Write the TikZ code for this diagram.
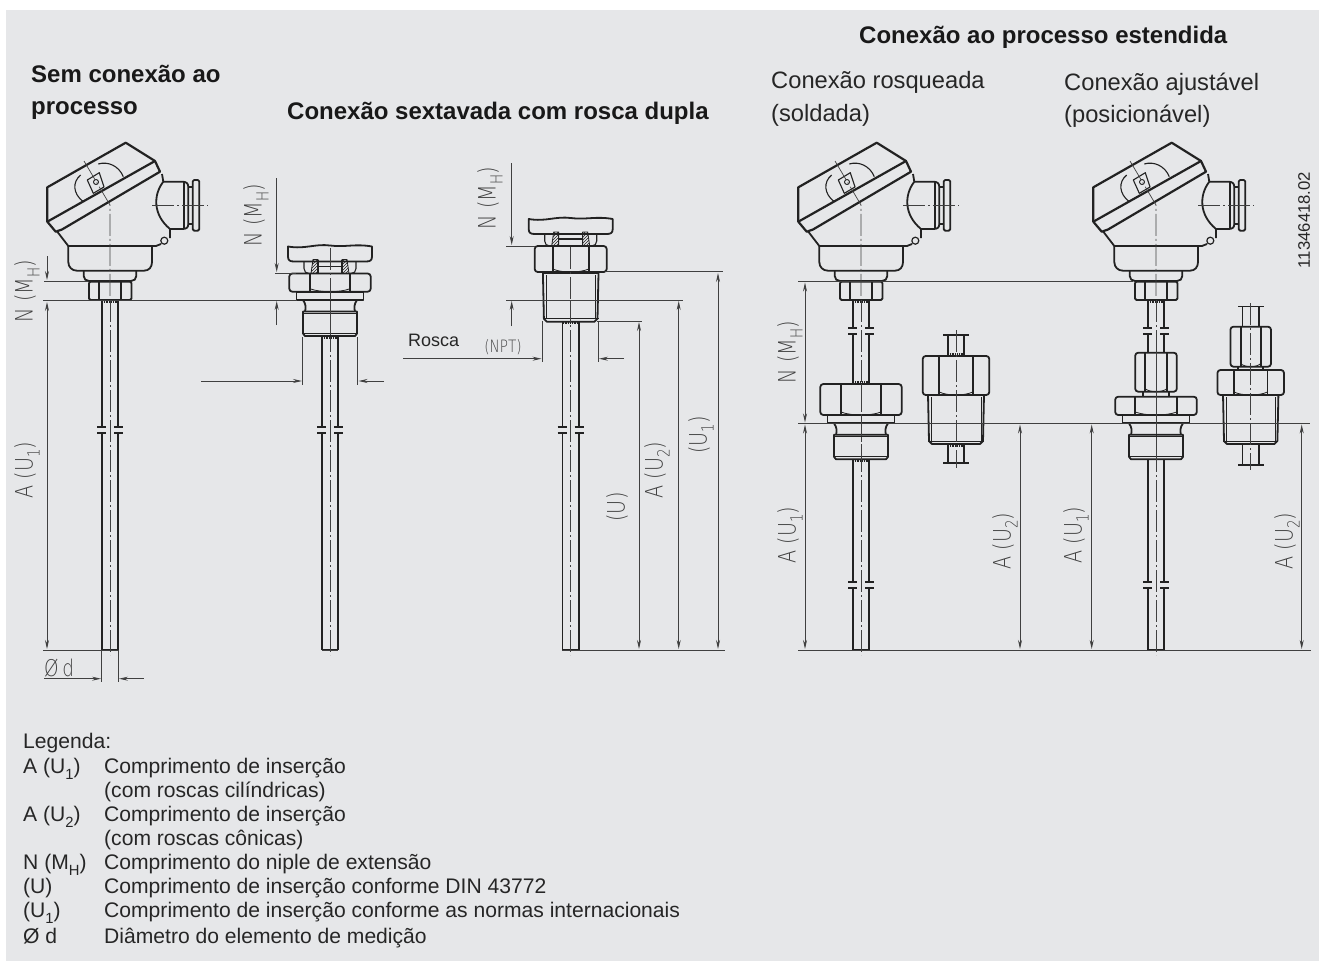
\documentclass[tikz,border=0pt]{standalone}
\usepackage{fontspec}
\setmainfont{Liberation Sans}
\newfontfamily\dimfont[FakeStretch=.8]{DejaVu Sans ExtraLight}
\usetikzlibrary{patterns,arrows.meta}
\definecolor{panelgray}{HTML}{E6E7E9}
\definecolor{inkgray}{HTML}{222222}
\definecolor{dimgray}{HTML}{404040}
\tikzset{
	part/.style={inkgray,line width=1.8pt,line join=round},
	lid/.style={inkgray,line width=2.2pt,line join=round},
	thin part/.style={inkgray,line width=.8pt},
	axis/.style={dimgray,line width=.7pt,dash pattern=on 22pt off 3pt on 2pt off 3pt},
	dimline/.style={dimgray,line width=.9pt},
	dimarrow/.style={dimgray,line width=.9pt,-{Stealth[length=9pt,width=4pt]}},
	dimlabel/.style={dimgray,font=\dimfont\fontsize{24}{24}\selectfont,rotate=90,inner sep=0pt},
	title/.style={font=\bfseries\fontsize{24}{26}\selectfont,inner sep=0pt,anchor=base west,text=black!90},
	head/.style={font=\fontsize{23.7}{26}\selectfont,inner sep=0pt,anchor=base west,text=black!85},
	legend/.style={font=\fontsize{21.1}{24}\selectfont,inner sep=0pt,anchor=base west,text=black!85}
}
\newcommand\lowsub[1]{\raisebox{-.3em}{\scalebox{.7}{#1}}}
% terminal head, origin on the stem axis at the shoulder line
\newcommand\headdraw[2]{
	\begin{scope}[shift={(#1,#2)}]
		\draw[lid] (-62.7,-112.7)--(15.7,-157.3)--(45,-139)--(50,-128.3)--(-48,-70.5)--(-54.3,-68.3)--(-62.7,-78.3)--cycle;
		\draw[lid] (-62.7,-78.3)--(45,-139);
		\draw[part] (-52.7,-68.3)--(-41.7,-54)--(46,-54);
		\draw[part] (52,-126)--(53.3,-118.3) .. controls (43,-105) and (43,-85) .. (60,-71)--(60,-62);
		\draw[part] (53.3,-118.3)--(72,-118.3) .. controls (76,-118.3) and (78.3,-117) .. (78.3,-113)--(78.3,-76) .. controls (78.3,-72) and (76,-71) .. (72,-71)--(60,-71);
		\draw[part] (74,-118.3)--(74,-71) (78.3,-113)--(82.7,-113) (78.3,-76)--(82.7,-76);
		\draw[part,rounded corners=1.5pt] (82.7,-120) rectangle (89.3,-69.3);
		\draw[part,line width=1.2pt] (54.3,-59.3) circle(3.5);
		\draw[part] (-41.7,-54)--(-41.7,-38) .. controls (-41.7,-33) and (-38,-29.3) .. (-33,-29.3)--(34,-29.3) .. controls (39,-29.3) and (42,-33) .. (42,-38)--(42,-54);
		\draw[part] (42,-54)--(46,-54) (51,-56)--(46,-54);
		\draw[part] (-26.3,-29.3)--(-26.3,-24) .. controls (-26.3,-21) and (-24,-19) .. (-21,-19)--(21,-19) .. controls (24,-19) and (26.3,-21) .. (26.3,-24)--(26.3,-29.3);
		\draw[part,rounded corners=1.5pt] (-21,-18.3)--(-21,0)--(21.5,0)--(21.5,-18.3)--cycle;
		\draw[part] (-10.7,-18.3)--(-10.7,0) (11,-18.3)--(11,0);
		\draw[part,line width=1.1pt] (-26.7,-98.3) .. controls (-37,-106) and (-38,-118) .. (-29.3,-125);
		\draw[part,line width=1.1pt] (-11.7,-136) .. controls (-2,-139) and (9,-134) .. (13.3,-123.3);
		\draw[part,line width=1.1pt] (-22.7,-120)--(-10.7,-127.3)--(-6,-113)--(-16.7,-106.7)--cycle;
		\draw[part,line width=.9pt] (-14,-118) circle(2.5);
		\draw[axis] (-26,-139)--(0,-95)--(0,-2);
		\draw[axis] (42,-95)--(98,-95);
	\end{scope}
}
% stem between two heights on the axis x
\newcommand\stemdraw[3]{
	\draw[part] (#1-8.3,#2)--(#1-8.3,#3) (#1+8.3,#2)--(#1+8.3,#3);
}
% fine ticks where a stem enters a part
\newcommand\ticksdraw[2]{
	\draw[inkgray,line width=2.5pt,dash pattern=on .6pt off 1.2pt] (#1-8,#2)--(#1+8,#2);
}
% break mark on a stem
\newcommand\breakdraw[2]{
	\draw[panelgray,fill=panelgray] (#1-12,#2-3) rectangle (#1+12,#2+3);
	\draw[part,line width=1.1pt] (#1-13,#2-3)--(#1-4,#2-3) (#1+4,#2-3)--(#1+13,#2-3)
		(#1-13,#2+3)--(#1-4,#2+3) (#1+4,#2+3)--(#1+13,#2+3);
}
% hexagon: axis, half width, half width of the flats, top, bottom
\newcommand\hexdraw[5]{
	\draw[part,rounded corners=3pt] (#1-#2,#4) rectangle (#1+#2,#5);
	\draw[part] (#1-#3,#4)--(#1-#3,#5) (#1+#3,#4)--(#1+#3,#5);
	\draw[thin part] (#1-#3,#5-3) .. controls (#1-#3/2,#5+1) and (#1+#3/2,#5+1) .. (#1+#3,#5-3);
}
% plate, neck and cylindrical thread under a hexagon, plate bottom at y
\newcommand\threaddraw[2]{
	\draw[part] (#1-33.5,#2-8.3)--(#1+33.5,#2-8.3)--(#1+33.5,#2)--(#1-33.5,#2)--cycle;
	\draw[part] (#1-27,#2) .. controls (#1-24,#2+4) and (#1-24,#2+8) .. (#1-25,#2+11.5)
		(#1+27,#2) .. controls (#1+24,#2+4) and (#1+24,#2+8) .. (#1+25,#2+11.5);
	\draw[part] (#1-27,#2+11.5)--(#1+27,#2+11.5)--(#1+27,#2+33.5)--(#1+25,#2+36)--(#1-25,#2+36)--(#1-27,#2+33.5)--cycle;
	\draw[thin part] (#1-27,#2+33.5)--(#1+27,#2+33.5) (#1-27,#2+13.5)--(#1+27,#2+13.5);
}
% conical thread: axis, half width, top, bottom
\newcommand\conedraw[4]{
	\draw[part] (#1-#2,#3)--(#1+#2,#3)--(#1+#2-1,#4-3)--(#1+#2-4,#4)--(#1-#2+4,#4)--(#1-#2+1,#4-3)--cycle;
	\draw[thin part] (#1-#2+3,#3+2)--(#1-#2+3,#4-3) (#1+#2-3,#3+2)--(#1+#2-3,#4-3);
	\draw[thin part] (#1-#2,#4-3)--(#1+#2,#4-3);
}
% wavy cut and locknut above a hexagon, top of hexagon at y
\newcommand\cutdraw[2]{
	\draw[part] (#1-42,#2-27) .. controls (#1-25,#2-24) and (#1-15,#2-30) .. (#1,#2-28)
		.. controls (#1+15,#2-26) and (#1+25,#2-30) .. (#1+42,#2-27)--(#1+42,#2-17) .. controls (#1+42,#2-13) and (#1+40,#2-12) .. (#1+36,#2-12)
		--(#1-36,#2-12) .. controls (#1-40,#2-12) and (#1-42,#2-13) .. (#1-42,#2-17)--cycle;
	\draw[part,line width=1.1pt] (#1-26,#2-12)--(#1-26,#2-5) .. controls (#1-26,#2-2) and (#1-24,#2) .. (#1-21,#2)
		(#1+26,#2-12)--(#1+26,#2-5) .. controls (#1+26,#2-2) and (#1+24,#2) .. (#1+21,#2);
	\draw[part,line width=1.1pt] (#1-12,#2-14)--(#1-12,#2) (#1+12,#2-14)--(#1+12,#2) (#1-12,#2-7)--(#1+12,#2-7);
	\fill[pattern=north east lines,pattern color=inkgray] (#1-17,#2-14)--(#1-12,#2-14)--(#1-12,#2)--(#1-19,#2)--cycle;
	\fill[pattern=north east lines,pattern color=inkgray] (#1+12,#2-14)--(#1+17,#2-14)--(#1+19,#2)--(#1+12,#2)--cycle;
	\draw[thin part] (#1-17,#2-14)--(#1-12,#2-14)--(#1-12,#2)--(#1-19,#2)--cycle
		(#1+12,#2-14)--(#1+17,#2-14)--(#1+19,#2)--(#1+12,#2)--cycle;
}
\begin{document}
\begin{tikzpicture}[x=1pt,y=-1pt,>=stealth]
	\useasboundingbox (0,0) rectangle (1319,961);
	\fill[white] (0,0) rectangle (1319,961);
	\fill[panelgray] (6,10) rectangle (1319,961);

	%titles
	\node[title] (noconn1) at (31,82) {Sem conexão ao};
	\node[title] (noconn2) at (31,114) {processo};
	\node[title] (hexconn) at (287,119) {Conexão sextavada com rosca dupla};
	\node[title] (extconn) at (859,43) {Conexão ao processo estendida};
	\node[head] (thr1) at (771,88) {Conexão rosqueada};
	\node[head] (thr2) at (771,121) {(soldada)};
	\node[head] (adj1) at (1064,90) {Conexão ajustável};
	\node[head] (adj2) at (1064,122) {(posicionável)};
	\node[font=\fontsize{16.7}{16.7}\selectfont,rotate=90,inner sep=0pt,text=black!85] (docnum) at (1304,220) {11346418.02};

	%heads and stems
	\headdraw{110}{300}
	\headdraw{861}{300}
	\headdraw{1156}{300}
	\stemdraw{110}{300}{650}
	\stemdraw{330}{336}{650}
	\stemdraw{570.7}{322}{650}
	\stemdraw{861}{300}{384}
	\stemdraw{861}{459}{650}
	\stemdraw{1156}{300}{352.7}
	\stemdraw{1156}{459}{650}
	\foreach \sx in {110,330,570.7}{
		\breakdraw{\sx}{430}
		\draw[part] (\sx-8.3,650)--(\sx+8.3,650);
		\draw[axis] (\sx,300)--(\sx,655);
	}
	\foreach \sx in {861,1156}{
		\breakdraw{\sx}{331}
		\breakdraw{\sx}{585}
		\draw[part] (\sx-8.3,650)--(\sx+8.3,650);
		\draw[axis] (\sx,300)--(\sx,655);
	}
	\ticksdraw{110}{302}
	\ticksdraw{330}{338}
	\ticksdraw{570.7}{323}
	\ticksdraw{861}{302}
	\ticksdraw{861}{382}
	\ticksdraw{861}{461}
	\ticksdraw{1156}{302}
	\ticksdraw{956}{354}
	\ticksdraw{956}{446}

	%fitting under the first cut
	\cutdraw{330}{273.5}
	\hexdraw{330}{40.7}{20}{273.5}{291.7}
	\threaddraw{330}{300}
	\draw[axis] (330,248)--(330,340);

	%fitting with taper thread
	\cutdraw{570.7}{246}
	\hexdraw{570.7}{36}{18}{246}{272}
	\conedraw{570.7}{27.8}{273}{321.7}
	\draw[axis] (570.7,247)--(570.7,322);

	%extended, welded
	\hexdraw{861}{40.7}{20}{384}{415}
	\threaddraw{861}{423.3}
	\draw[axis] (861,384)--(861,462);

	%loose fitting, welded
	\stemdraw{956}{335}{356}
	\stemdraw{956}{444}{463}
	\draw[part,line width=1.1pt] (943,335)--(969,335) (943,463)--(969,463);
	\hexdraw{956}{33.3}{16.7}{356}{395}
	\conedraw{956}{28}{395}{444}
	\draw[axis] (956,330)--(956,468);

	%extended, adjustable
	\hexdraw{1156}{20.8}{11}{352.7}{391.7}
	\draw[part] (1143,391.7)--(1143,396.7) (1169,391.7)--(1169,396.7);
	\hexdraw{1156}{40.8}{20.7}{396.7}{415}
	\threaddraw{1156}{423.3}
	\draw[axis] (1156,352)--(1156,462);

	%loose fitting, adjustable
	\stemdraw{1250.7}{306.7}{326.7}
	\stemdraw{1250.7}{444}{465}
	\draw[part,line width=1.1pt] (1238,306.7)--(1264,306.7) (1238,465)--(1264,465);
	\hexdraw{1250.7}{20.3}{10}{326.7}{366.7}
	\draw[part] (1238,366.7)--(1238,370) (1263,366.7)--(1263,370);
	\hexdraw{1250.7}{33.3}{16.7}{370}{395}
	\conedraw{1250.7}{27.7}{395}{444}
	\draw[axis] (1250.7,303)--(1250.7,470);

	%extension lines
	\draw[dimline]
	(43,300)--(296,300)
	(44,281.5)--(88,281.5)
	(275,273.3)--(296,273.3)
	(506,246)--(535,246)
	(506,300)--(683,300)
	(605,271.7)--(723,271.7)
	(597,321)--(642,321)
	(43,650)--(118,650)
	(322,650)--(338,650)
	(562,650)--(725,650)
	(798,281.5)--(1133,281.5)
	(798,423.3)--(1310,423.3)
	(798,650)--(1311,650)
	(302.7,337)--(302.7,385)
	(357.7,337)--(357.7,385)
	(542.7,321)--(542.7,362)
	(598,321)--(598,362)
	(101.8,650)--(101.8,682)
	(118,650)--(118,682);

	%dimension lines
	\draw[dimarrow] (47,256)--(47,280);
	\draw[dimarrow] (47,425)--(47,302);
	\draw[dimarrow] (47,425)--(47,649);
	\draw[dimarrow] (276.7,178)--(276.7,272);
	\draw[dimarrow] (276.7,325)--(276.7,301);
	\draw[dimarrow] (201,381)--(302,381);
	\draw[dimarrow] (384,381)--(358.5,381);
	\draw[dimarrow] (511.7,163)--(511.7,245);
	\draw[dimarrow] (511.7,326)--(511.7,301);
	\draw[dimarrow] (403,358.7)--(541.5,358.7);
	\draw[dimarrow] (624,358.7)--(599,358.7);
	\draw[dimarrow] (639,480)--(639,322);
	\draw[dimarrow] (639,480)--(639,649);
	\draw[dimarrow] (678.7,480)--(678.7,301);
	\draw[dimarrow] (678.7,480)--(678.7,649);
	\draw[dimarrow] (718,480)--(718,273);
	\draw[dimarrow] (718,480)--(718,649);
	\draw[dimarrow] (805,350)--(805,282.5);
	\draw[dimarrow] (805,350)--(805,422.5);
	\draw[dimarrow] (805,540)--(805,424.5);
	\draw[dimarrow] (805,540)--(805,649);
	\draw[dimarrow] (1020,540)--(1020,424.5);
	\draw[dimarrow] (1020,540)--(1020,649);
	\draw[dimarrow] (1091.7,540)--(1091.7,424.5);
	\draw[dimarrow] (1091.7,540)--(1091.7,649);
	\draw[dimarrow] (1301.7,540)--(1301.7,424.5);
	\draw[dimarrow] (1301.7,540)--(1301.7,649);
	\draw[dimarrow] (44,678.7)--(101,678.7);
	\draw[dimarrow] (143.7,678.7)--(119,678.7);

	%dimension labels
	\node[dimlabel] (nm1) at (27,291) {N (M\lowsub{H})};
	\node[dimlabel] (au1) at (27,470) {A (U\lowsub{1})};
	\node[dimlabel] (nm2) at (256,215) {N (M\lowsub{H})};
	\node[dimlabel] (nm3) at (490,198) {N (M\lowsub{H})};
	\node[dimlabel] (uu) at (617,507) {(U)};
	\node[dimlabel] (au2) at (657,470) {A (U\lowsub{2})};
	\node[dimlabel] (uone) at (701,435) {(U\lowsub{1})};
	\node[dimlabel] (nm4) at (790,352) {N (M\lowsub{H})};
	\node[dimlabel] (au3) at (790,535) {A (U\lowsub{1})};
	\node[dimlabel] (au4) at (1005,541) {A (U\lowsub{2})};
	\node[dimlabel] (au5) at (1076,535) {A (U\lowsub{1})};
	\node[dimlabel] (au6) at (1287,541) {A (U\lowsub{2})};
	\node[dimgray,font=\dimfont\fontsize{17}{17}\selectfont,inner sep=0pt] (npt) at (503,347) {(NPT)};
	\node[legend,font=\fontsize{18}{18}\selectfont] (rosca) at (408,346) {Rosca};
	\node[dimgray,font=\dimfont\fontsize{23}{23}\selectfont,inner sep=0pt] (dsym) at (59,668) {Ø\,d};

	%legend
	\node[legend] (leg0) at (23,748) {Legenda:};
	\foreach \ya/\ka/\va in {
		773/A (U\lowsub{1})/Comprimento de inserção,
		797//(com roscas cilíndricas),
		821/A (U\lowsub{2})/Comprimento de inserção,
		845//(com roscas cônicas),
		869/N (M\lowsub{H})/Comprimento do niple de extensão,
		893/(U)/Comprimento de inserção conforme DIN 43772,
		917/(U\lowsub{1})/Comprimento de inserção conforme as normas internacionais,
		943/Ø d/Diâmetro do elemento de medição}{
		\node[legend] (key\ya) at (23,\ya) {\ka};
		\node[legend] (val\ya) at (104,\ya) {\va};
	}
\end{tikzpicture}
\end{document}
